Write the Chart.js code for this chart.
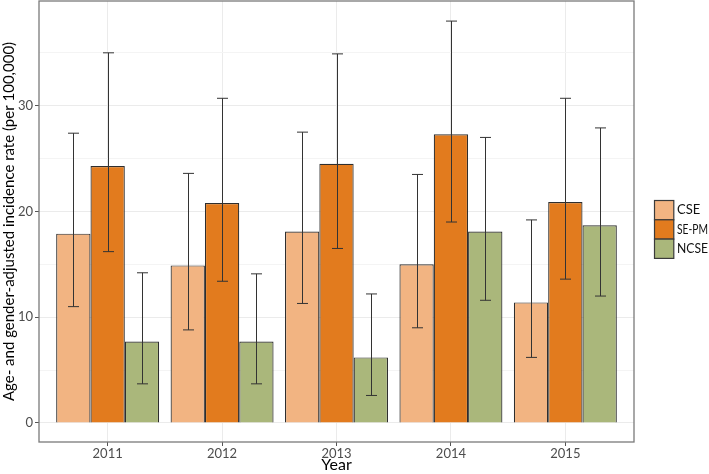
<!DOCTYPE html>
<html>
<head>
<meta charset="utf-8">
<script src="https://cdn.jsdelivr.net/npm/chart.js@4.4.1/dist/chart.umd.min.js"></script>
<style>
  html, body { margin: 0; padding: 0; background: #fff; }
  #wrap { width: 709px; height: 474px; }
</style>
</head>
<body>
<div id="wrap"><canvas id="myChart" width="709" height="474"></canvas></div>
<script>
'use strict';

// categories
const years = ['2011', '2012', '2013', '2014', '2015'];
const seriesNames = ['CSE', 'SE-PM', 'NCSE'];

// bar heights
const cseValues = [17.9, 14.9, 18.1, 15.0, 11.4];
const sepmValues = [24.3, 20.8, 24.5, 27.3, 20.9];
const ncseValues = [7.7, 7.7, 6.2, 18.1, 18.7];

// error bar ends
const cseLow = [11.0, 8.8, 11.3, 9.0, 6.2];
const cseHigh = [27.4, 23.6, 27.5, 23.5, 19.2];
const sepmLow = [16.2, 13.4, 16.5, 19.0, 13.6];
const sepmHigh = [35.0, 30.7, 34.9, 38.0, 30.7];
const ncseLow = [3.7, 3.7, 2.6, 11.6, 12.0];
const ncseHigh = [14.2, 14.1, 12.2, 27.0, 27.9];

// y tick labels
const yTickLabels = [0, 10, 20, 30];

const colors = ['#f2b482', '#e27b1e', '#aab77b'];
const FONT = 'Lato, "Liberation Sans", sans-serif';

function toPoints(values){
  return values.map(function(v, i){ return {x: i + 1, y: v}; });
}

const errorLows = [cseLow, sepmLow, ncseLow];
const errorHighs = [cseHigh, sepmHigh, ncseHigh];

// error bars + frame + legend
const extrasPlugin = {
  id: 'extras',
  afterDatasetsDraw(chart){
    const ctx = chart.ctx;
    const yScale = chart.scales.y;
    ctx.save();
    ctx.strokeStyle = '#333';
    ctx.lineWidth = 1;
    chart.data.datasets.forEach(function(ds, di){
      const meta = chart.getDatasetMeta(di);
      meta.data.forEach(function(bar, i){
        const x = Math.round(bar.x) + 0.5;
        const yLo = yScale.getPixelForValue(errorLows[di][i]);
        const yHi = yScale.getPixelForValue(errorHighs[di][i]);
        ctx.beginPath();
        ctx.moveTo(x, yLo);
        ctx.lineTo(x, yHi);
        ctx.moveTo(x - 5.5, yLo);
        ctx.lineTo(x + 5.5, yLo);
        ctx.moveTo(x - 5.5, yHi);
        ctx.lineTo(x + 5.5, yHi);
        ctx.stroke();
      });
    });
    ctx.restore();
  },
  afterDraw(chart){
    const ctx = chart.ctx;
    const a = chart.chartArea;
    ctx.save();
    // panel border
    ctx.strokeStyle = '#7a7a7a';
    ctx.lineWidth = 1.3;
    ctx.strokeRect(a.left, a.top, a.right - a.left, a.bottom - a.top);

    // legend, keys touching like ggplot
    const lx = 654.5, ly = 200.5, box = 19.3;
    ctx.font = '13px ' + FONT;
    ctx.textBaseline = 'middle';
    seriesNames.forEach(function(name, i){
      const y = ly + i * box;
      ctx.fillStyle = colors[i];
      ctx.fillRect(lx, y, box, box);
      ctx.strokeStyle = '#3a3a3a';
      ctx.lineWidth = 1.2;
      ctx.strokeRect(lx, y, box, box);
      ctx.fillStyle = '#111';
      ctx.fillText(name, 677, y + box / 2, 31);
    });
    ctx.restore();
  }
};

const datasets = [cseValues, sepmValues, ncseValues].map(function(vals, i){
  return {
    label: seriesNames[i],
    data: toPoints(vals),
    backgroundColor: colors[i],
    borderColor: '#2e2e2e',
    borderWidth: 1.2,
    categoryPercentage: 0.9,
    barPercentage: 1.0
  };
});

new Chart(document.getElementById('myChart'), {
  type: 'bar',
  data: { datasets: datasets },
  options: {
    responsive: false,
    animation: false,
    layout: { padding: { top: 1, right: 75, left: 0, bottom: 0 } },
    plugins: {
      legend: { display: false },
      tooltip: { enabled: false }
    },
    scales: {
      x: {
        type: 'linear',
        min: 0.4,
        max: 5.6,
        offset: false,
        afterFit: function(scale){
          scale.height = 32;
          scale.paddingLeft = 0;
          scale.paddingRight = 0;
        },
        ticks: {
          stepSize: 1,
          includeBounds: false,
          color: '#4d4d4d',
          font: { family: FONT, size: 13 },
          padding: 0,
          maxRotation: 0,
          callback: function(v){ return years[v - 1] || ''; }
        },
        grid: {
          offset: false,
          color: '#ebebeb',
          tickColor: '#555',
          tickLength: 4,
          drawTicks: true
        },
        border: { display: false },
        title: {
          display: true,
          text: 'Year',
          color: '#000',
          font: { family: FONT, size: 16 },
          padding: { top: 0, bottom: 0 }
        }
      },
      y: {
        min: -1.8,
        max: 39.9,
        afterFit: function(scale){
          scale.width = 39;
          scale.paddingTop = 0;
          scale.paddingBottom = 0;
        },
        ticks: {
          stepSize: 5,
          includeBounds: false,
          color: '#4d4d4d',
          font: { family: FONT, size: 13 },
          padding: 2,
          callback: function(v){ return yTickLabels.indexOf(v) >= 0 ? String(v) : ''; }
        },
        grid: {
          color: function(c){ return (c.tick && c.tick.value % 10 === 0) ? '#ebebeb' : '#f4f4f4'; },
          tickColor: function(c){ return (c.tick && c.tick.value % 10 === 0) ? '#555' : 'rgba(0,0,0,0)'; },
          tickLength: 4
        },
        border: { display: false },
        title: {
          display: true,
          text: 'Age- and gender-adjusted incidence rate (per 100,000)',
          color: '#000',
          font: { family: FONT, size: 15 },
          padding: { top: 0, bottom: 0 }
        }
      }
    }
  },
  plugins: [extrasPlugin]
});
</script>
</body>
</html>
